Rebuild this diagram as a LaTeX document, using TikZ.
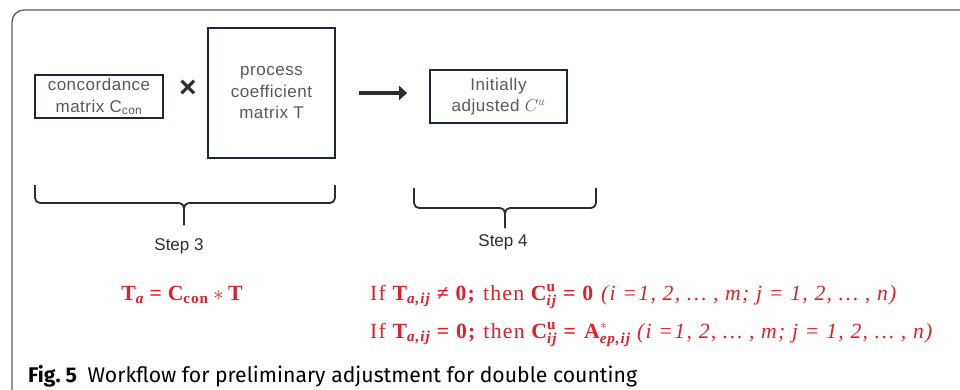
\documentclass[tikz,border=0pt]{standalone}
\usepackage{amsmath}
\usepackage{fontspec}
\setmainfont{Liberation Serif}
\newfontfamily\eqf{Liberation Serif}[LetterSpace=6]
\newfontfamily\arialf{Liberation Sans}[LetterSpace=3]
\newfontfamily\stepf{Liberation Sans}
\newfontfamily\capf{Fira Sans}
\usetikzlibrary{arrows.meta}
\definecolor{eqred}{RGB}{222,32,40}
\definecolor{boxline}{RGB}{28,38,52}
\definecolor{boxtxt}{RGB}{88,88,88}
\definecolor{framec}{RGB}{90,90,90}
\definecolor{darkc}{RGB}{45,45,45}
\newcommand{\bsym}[1]{\text{\bfseries #1}}
\newcommand{\isub}[1]{\text{\bfseries\itshape #1}}
\begin{document}
\begin{tikzpicture}[x=1pt,y=-1pt,
  boxn/.style={draw=boxline, line width=1.8pt, inner sep=0pt, align=center,
    font=\arialf\fontsize{17}{21.5}\selectfont, text=boxtxt},
  bracep/.style={draw=darkc, line width=1.8pt, rounded corners=5pt},
  steplbl/.style={font=\stepf\fontsize{17}{20}\selectfont, text=darkc, anchor=base},
  eqn/.style={font=\eqf\fontsize{21.7}{25}\selectfont, text=eqred, inner sep=0pt},
  framep/.style={draw=framec, line width=1.3pt, rounded corners=12pt}]
\useasboundingbox (0,0) rectangle (960,390);
% frame
\draw[framep] (960,10) -- (12,10) -- (12,390);
% boxes
\node[boxn, minimum width=128pt, minimum height=43pt] (c1) at (99,96.5)
  {concordance\\matrix C\textsubscript{con}};
\node[font=\stepf\bfseries\fontsize{30}{30}\selectfont, text=darkc, inner sep=0pt] (times) at (188,89) {×};
\node[boxn, minimum width=127pt, minimum height=130pt] (p) at (271.5,93)
  {process\\coefficient\\matrix T};
\node[boxn, minimum width=137pt, minimum height=53pt] (init) at (498.5,96.5)
  {Initially\\adjusted $C^{u}$};
% arrow
\draw[darkc, line width=4.5pt, -{Triangle[length=8pt,width=14pt]}]
  ([xshift=23pt]p.east) -- ([xshift=-22pt]p.east -| init.west);
% braces
\draw[bracep] (35,185) -- (35,203) -- (184,203) -- (184,225);
\draw[bracep] (335,185) -- (335,203) -- (184,203) -- (184,225);
\draw[bracep] (414,188) -- (414,208) -- (505,208) -- (505,228);
\draw[bracep] (596,188) -- (596,208) -- (505,208) -- (505,228);
\node[steplbl] (s3) at (179,250) {Step 3};
\node[steplbl] (s4) at (503,246) {Step 4};
% equations
\node[eqn, anchor=base] (eqa) at (182,300)
  {$\bsym{T}_{\isub{a}}\;\bsym{=}\;\bsym{C}_{\bsym{con}}\ast\bsym{T}$};
\node[eqn, anchor=base west] (eq1) at (370,300)
  {If $\bsym{T}_{\isub{a,ij}}$ \textbf{≠ 0;} then $\bsym{C}^{\bsym{u}}_{\isub{ij}}$ \textbf{= 0} \textit{(i =1, 2, … , m; j = 1, 2, … , n)}};
\node[eqn, anchor=base west] (eq2) at (370,338)
  {If $\bsym{T}_{\isub{a,ij}}$ \textbf{= 0;} then $\bsym{C}^{\bsym{u}}_{\isub{ij}}$ \textbf{=} $\bsym{A}^{*}_{\isub{ep,ij}}$ \textit{(i =1, 2, … , m; j = 1, 2, … , n)}};
% caption
\node[font=\capf\fontsize{21.2}{25}\selectfont, text=black, anchor=base west, inner sep=0pt] (cap) at (28,382)
  {\textbf{Fig.~5}\hspace{0.5em}Workflow for preliminary adjustment for double counting};
\end{tikzpicture}
\end{document}
